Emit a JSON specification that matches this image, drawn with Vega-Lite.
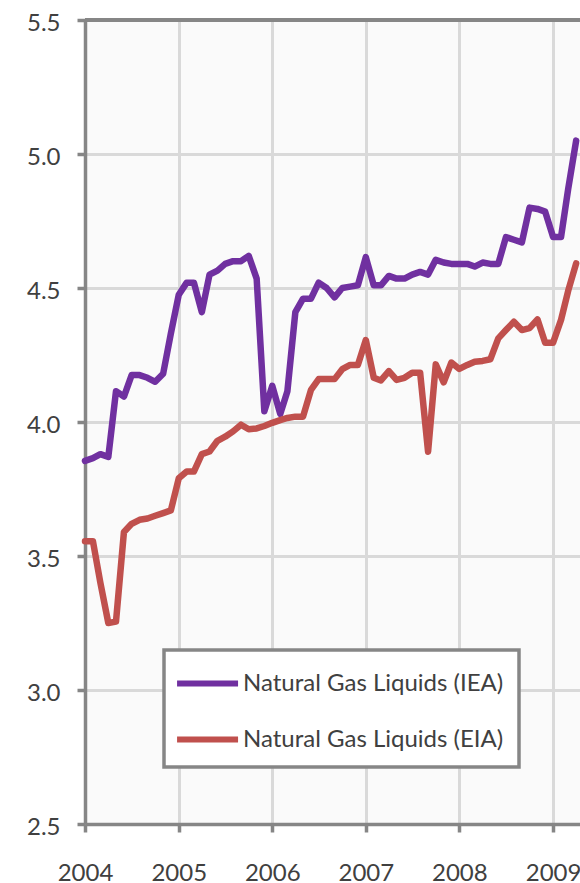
{
  "$schema": "https://vega.github.io/schema/vega-lite/v6.json",
  "width": 495,
  "height": 804,
  "autosize": {"type": "none"},
  "padding": {"left": 85, "top": 20, "right": 0, "bottom": 59},
  "background": "#ffffff",
  "config": {
    "view": {"fill": "#fafafa", "stroke": null},
    "font": "Lato",
    "axis": {
      "domainColor": "#868686", "domainWidth": 3.5,
      "tickColor": "#868686", "tickWidth": 3.5, "tickSize": 8,
      "gridColor": "#d9d9d9", "gridWidth": 3,
      "labelColor": "#404040", "labelFont": "Lato", "labelFontSize": 24,
      "title": null, "labelFlush": false, "labelOverlap": false
    },
    "legend": {"strokeWidth": 3.5}
  },
  "data": {
    "values": [
      {"m": "2004-01", "iea": 3.855, "eia": 3.555},
      {"m": "2004-02", "iea": 3.865, "eia": 3.555},
      {"m": "2004-03", "iea": 3.88, "eia": 3.40},
      {"m": "2004-04", "iea": 3.87, "eia": 3.25},
      {"m": "2004-05", "iea": 4.115, "eia": 3.255},
      {"m": "2004-06", "iea": 4.095, "eia": 3.59},
      {"m": "2004-07", "iea": 4.175, "eia": 3.62},
      {"m": "2004-08", "iea": 4.175, "eia": 3.635},
      {"m": "2004-09", "iea": 4.165, "eia": 3.64},
      {"m": "2004-10", "iea": 4.15, "eia": 3.65},
      {"m": "2004-11", "iea": 4.18, "eia": 3.66},
      {"m": "2004-12", "iea": 4.33, "eia": 3.67},
      {"m": "2005-01", "iea": 4.475, "eia": 3.79},
      {"m": "2005-02", "iea": 4.52, "eia": 3.815},
      {"m": "2005-03", "iea": 4.52, "eia": 3.815},
      {"m": "2005-04", "iea": 4.41, "eia": 3.88},
      {"m": "2005-05", "iea": 4.55, "eia": 3.89},
      {"m": "2005-06", "iea": 4.565, "eia": 3.93},
      {"m": "2005-07", "iea": 4.59, "eia": 3.945},
      {"m": "2005-08", "iea": 4.60, "eia": 3.965},
      {"m": "2005-09", "iea": 4.60, "eia": 3.99},
      {"m": "2005-10", "iea": 4.62, "eia": 3.973},
      {"m": "2005-11", "iea": 4.535, "eia": 3.976},
      {"m": "2005-12", "iea": 4.04, "eia": 3.985},
      {"m": "2006-01", "iea": 4.135, "eia": 3.997},
      {"m": "2006-02", "iea": 4.03, "eia": 4.007},
      {"m": "2006-03", "iea": 4.115, "eia": 4.015},
      {"m": "2006-04", "iea": 4.41, "eia": 4.02},
      {"m": "2006-05", "iea": 4.46, "eia": 4.02},
      {"m": "2006-06", "iea": 4.46, "eia": 4.12},
      {"m": "2006-07", "iea": 4.52, "eia": 4.16},
      {"m": "2006-08", "iea": 4.50, "eia": 4.16},
      {"m": "2006-09", "iea": 4.465, "eia": 4.16},
      {"m": "2006-10", "iea": 4.50, "eia": 4.197},
      {"m": "2006-11", "iea": 4.505, "eia": 4.213},
      {"m": "2006-12", "iea": 4.51, "eia": 4.213},
      {"m": "2007-01", "iea": 4.615, "eia": 4.306},
      {"m": "2007-02", "iea": 4.51, "eia": 4.165},
      {"m": "2007-03", "iea": 4.51, "eia": 4.155},
      {"m": "2007-04", "iea": 4.545, "eia": 4.19},
      {"m": "2007-05", "iea": 4.535, "eia": 4.157},
      {"m": "2007-06", "iea": 4.535, "eia": 4.165},
      {"m": "2007-07", "iea": 4.55, "eia": 4.184},
      {"m": "2007-08", "iea": 4.56, "eia": 4.184},
      {"m": "2007-09", "iea": 4.55, "eia": 3.889},
      {"m": "2007-10", "iea": 4.605, "eia": 4.215},
      {"m": "2007-11", "iea": 4.595, "eia": 4.148},
      {"m": "2007-12", "iea": 4.59, "eia": 4.222},
      {"m": "2008-01", "iea": 4.59, "eia": 4.198},
      {"m": "2008-02", "iea": 4.59, "eia": 4.213},
      {"m": "2008-03", "iea": 4.58, "eia": 4.225},
      {"m": "2008-04", "iea": 4.595, "eia": 4.228},
      {"m": "2008-05", "iea": 4.59, "eia": 4.234},
      {"m": "2008-06", "iea": 4.59, "eia": 4.312},
      {"m": "2008-07", "iea": 4.69, "eia": 4.343},
      {"m": "2008-08", "iea": 4.68, "eia": 4.374},
      {"m": "2008-09", "iea": 4.67, "eia": 4.343},
      {"m": "2008-10", "iea": 4.80, "eia": 4.35},
      {"m": "2008-11", "iea": 4.795, "eia": 4.383},
      {"m": "2008-12", "iea": 4.785, "eia": 4.296},
      {"m": "2009-01", "iea": 4.69, "eia": 4.296},
      {"m": "2009-02", "iea": 4.69, "eia": 4.381},
      {"m": "2009-03", "iea": 4.87, "eia": 4.49},
      {"m": "2009-04", "iea": 5.05, "eia": 4.592}
    ],
    "format": {"parse": {"m": "utc:'%Y-%m'"}}
  },
  "layer": [
    {
      "mark": {"type": "rule", "color": "#868686", "strokeWidth": 3.5},
      "encoding": {"y": {"datum": 5.5, "type": "quantitative"}}
    },
    {
      "transform": [{"fold": ["iea", "eia"], "as": ["series", "value"]}],
      "mark": {"type": "line", "strokeWidth": 6.5, "strokeCap": "round", "strokeJoin": "round"},
      "encoding": {
        "x": {
          "field": "m", "type": "temporal",
          "scale": {"type": "utc", "domain": [
            {"year": 2004, "month": 1, "date": 1, "utc": true},
            {"year": 2009, "month": 4, "date": 16, "utc": true}
          ]},
          "axis": {
            "values": [
              {"year": 2004, "month": 1, "date": 1, "utc": true},
              {"year": 2005, "month": 1, "date": 1, "utc": true},
              {"year": 2006, "month": 1, "date": 1, "utc": true},
              {"year": 2007, "month": 1, "date": 1, "utc": true},
              {"year": 2008, "month": 1, "date": 1, "utc": true},
              {"year": 2009, "month": 1, "date": 1, "utc": true}
            ],
            "format": "%Y", "formatType": "utc", "labelPadding": 29, "grid": true
          }
        },
        "y": {
          "field": "value", "type": "quantitative",
          "scale": {"domain": [2.5, 5.5], "nice": false, "zero": false},
          "axis": {"values": [2.5, 3.0, 3.5, 4.0, 4.5, 5.0, 5.5], "format": ".1f", "labelPadding": 17, "labelOffset": 3, "grid": true}
        },
        "color": {
          "field": "series", "type": "nominal",
          "scale": {"domain": ["iea", "eia"], "range": ["#7030A0", "#C0504D"]},
          "legend": {
            "orient": "none", "legendX": 79, "legendY": 630, "title": null,
            "symbolType": "M-1.34,0H2.66", "symbolSize": 930, "symbolStrokeWidth": 6,
            "labelFontSize": 24, "labelColor": "#404040", "labelFont": "Lato", "labelLimit": 500,
            "padding": 15, "rowPadding": 25, "labelOffset": 27,
            "strokeColor": "#868686", "fillColor": "#ffffff",
            "labelExpr": "datum.value == 'iea' ? 'Natural Gas Liquids (IEA)' : 'Natural Gas Liquids (EIA)'"
          }
        }
      }
    }
  ]
}
